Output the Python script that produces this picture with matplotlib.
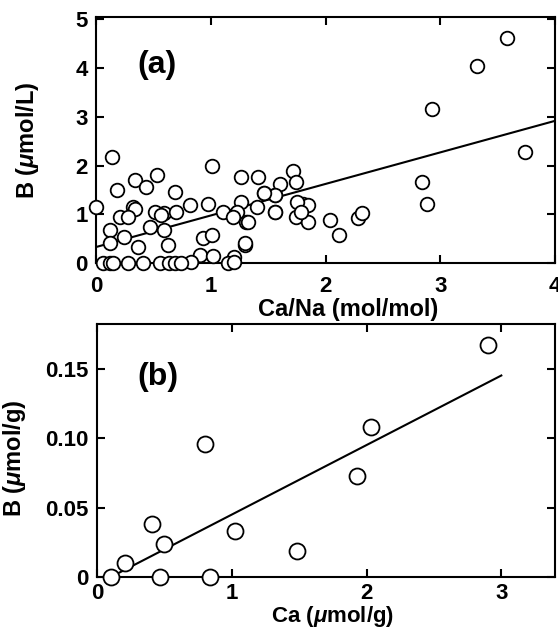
import numpy as np
import matplotlib
matplotlib.use("Agg")
import matplotlib.pyplot as plt

plt.rcParams['font.family'] = ['Liberation Sans', 'DejaVu Sans']
plt.rcParams['font.weight'] = 'bold'
plt.rcParams['mathtext.fontset'] = 'custom'
plt.rcParams['mathtext.it'] = 'Liberation Sans:bold:italic'
plt.rcParams['mathtext.rm'] = 'Liberation Sans:bold'

# panel (a): B in solution vs Ca/Na ratio
ca_na = [0.00, 0.14, 0.18, 0.34, 0.44, 0.53, 0.32, 0.34, 0.12, 0.12, 0.24, 0.21,
         0.37, 0.47, 0.59, 0.59, 0.63, 0.69, 0.70, 0.82, 0.98, 1.01, 0.93, 1.01,
         0.91, 0.83, 0.51, 0.28, 0.57,
         0.06, 0.12, 0.15, 0.28, 0.41, 0.56, 0.64, 0.69, 0.74,
         1.26, 1.41, 1.26, 1.40, 1.31, 1.30, 1.20, 1.15, 1.11, 1.23, 1.19, 1.02,
         1.46, 1.56, 1.30, 1.32, 1.56, 1.20,
         1.72, 1.74, 1.60, 1.56, 1.46, 1.56, 1.80, 1.85, 1.74, 1.85, 1.75, 1.79,
         2.04, 2.12, 2.28, 2.32,
         2.84, 2.88, 2.93, 3.32, 3.58, 3.74]
b_sol = [1.15, 2.17, 1.49, 1.70, 1.56, 1.80, 1.15, 1.12, 0.67, 0.41, 0.53, 0.94,
         0.33, 0.74, 1.02, 0.67, 0.37, 1.45, 1.05, 1.19, 1.22, 2.00, 0.51, 0.57,
         0.16, 0.03, 1.04, 0.94, 0.98,
         0.00, 0.00, 0.00, 0.00, 0.00, 0.00, 0.00, 0.00, 0.00,
         1.76, 1.76, 1.25, 1.15, 0.84, 0.37, 0.12, 0.00, 1.05, 1.04, 0.94, 0.15,
         1.43, 1.39, 0.41, 0.84, 1.04, 0.02,
         1.90, 1.66, 1.63, 1.39, 1.43, 1.05, 1.22, 1.19, 0.94, 0.84, 1.25, 1.05,
         0.88, 0.57, 0.92, 1.02,
         1.66, 1.21, 3.17, 4.05, 4.62, 2.27]
fit_a_x = [0.0, 4.0]
fit_a_y = [0.33, 2.92]

# panel (b): B in sediment vs Ca
ca = [0.10, 0.21, 0.41, 0.50, 0.47, 0.80, 0.84, 1.02, 1.48, 1.93, 2.03, 2.90]
b_sed = [0.000, 0.010, 0.038, 0.024, 0.000, 0.096, 0.000, 0.033, 0.019, 0.073, 0.108, 0.167]
fit_b_x = [0.10, 3.0]
fit_b_y = [0.000, 0.145]

fig = plt.figure(figsize=(5.58, 6.28), dpi=100)
ax1 = fig.add_axes([0.172, 0.581, 0.823, 0.392])
ax2 = fig.add_axes([0.174, 0.081, 0.821, 0.403])

for ax in (ax1, ax2):
    for s in ax.spines.values():
        s.set_linewidth(1.5)
    ax.tick_params(direction='in', top=True, right=True, length=6, width=1.5,
                   labelsize=16)
    ax.tick_params(axis='y', pad=6)

ax1.plot(fit_a_x, fit_a_y, color='black', lw=1.5, zorder=2)
ax1.plot(ca_na, b_sol, 'o', ms=9.8, mfc='white', mec='black', mew=1.3,
         clip_on=False, zorder=3)
ax1.set_xlim(0, 4)
ax1.set_ylim(0, 5.05)
ax1.set_xticks([0, 1, 2, 3, 4])
ax1.set_yticks([0, 1, 2, 3, 4, 5])
ax1.tick_params(axis='x', pad=9)
ax1.set_xlabel('Ca/Na (mol/mol)', fontsize=17, fontweight='bold')
ax1.xaxis.set_label_coords(0.549, -0.142)
ax1.set_ylabel(r'B ($\mu$mol/L)', fontsize=17, fontweight='bold')
ax1.yaxis.set_label_coords(-0.12, 0.5)
ax1.text(0.09, 0.805, '(a)', transform=ax1.transAxes, fontsize=23,
         fontweight='bold', va='center', ha='left')

ax2.plot(fit_b_x, fit_b_y, color='black', lw=1.5, zorder=2)
ax2.plot(ca, b_sed, 'o', ms=11.5, mfc='white', mec='black', mew=1.3,
         clip_on=False, zorder=3)
ax2.set_xlim(0, 3.4)
ax2.set_ylim(0, 0.182)
ax2.set_xticks([0, 1, 2, 3])
ax2.set_yticks([0, 0.05, 0.10, 0.15])
ax2.set_yticklabels(['0', '0.05', '0.10', '0.15'])
ax2.tick_params(axis='x', pad=4)
ax2.set_xlabel(r'Ca ($\mu$mol/g)', fontsize=16, fontweight='bold')
ax2.xaxis.set_label_coords(0.513, -0.106)
ax2.set_ylabel(r'B ($\mu$mol/g)', fontsize=17, fontweight='bold')
ax2.yaxis.set_label_coords(-0.15, 0.47)
ax2.text(0.087, 0.79, '(b)', transform=ax2.transAxes, fontsize=23,
         fontweight='bold', va='center', ha='left')

fig.savefig('out.png', dpi=100)
